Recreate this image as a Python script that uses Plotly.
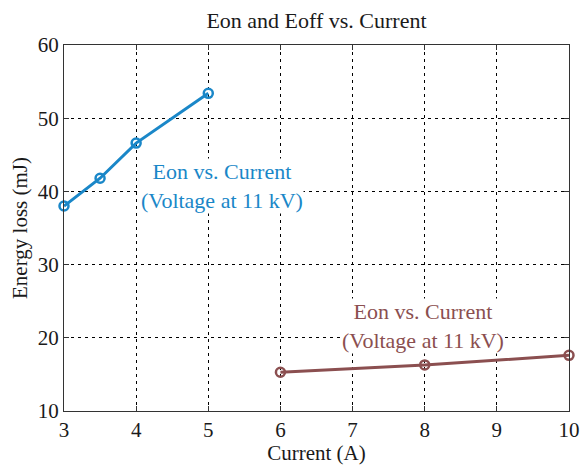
import plotly.graph_objects as go

# Switching energy data
eon_current = [3, 3.5, 4, 5]
eon_energy = [38.0, 41.8, 46.6, 53.4]

eoff_current = [6, 8, 10]
eoff_energy = [15.3, 16.3, 17.6]

x_ticks = [3, 4, 5, 6, 7, 8, 9, 10]
y_ticks = [10, 20, 30, 40, 50, 60]

blue = "#1a87c8"
brown = "#8b4f50"
font_family = "Liberation Serif, Times New Roman, serif"
text_color = "#1a1a1a"

fig = go.Figure()

fig.add_trace(go.Scatter(
    x=eon_current, y=eon_energy, mode="lines+markers",
    line=dict(color=blue, width=3),
    marker=dict(symbol="circle-open", size=9, color=blue, line=dict(width=2.5, color=blue)),
    showlegend=False, cliponaxis=False,
))

fig.add_trace(go.Scatter(
    x=eoff_current, y=eoff_energy, mode="lines+markers",
    line=dict(color=brown, width=3),
    marker=dict(symbol="circle-open", size=9, color=brown, line=dict(width=2.5, color=brown)),
    showlegend=False, cliponaxis=False,
))

fig.add_annotation(
    x=5.19, y=40.7, xref="x", yref="y",
    text="Eon vs. Current<br>(Voltage at 11 kV)",
    showarrow=False, align="center",
    font=dict(family=font_family, size=22, color=blue),
    bgcolor="white", borderpad=0,
)

fig.add_annotation(
    x=7.98, y=21.6, xref="x", yref="y",
    text="Eon vs. Current<br>(Voltage at 11 kV)",
    showarrow=False, align="center",
    font=dict(family=font_family, size=22, color=brown),
    bgcolor="white", borderpad=0,
)

axis_common = dict(
    showline=True, linecolor="#333333", linewidth=1, mirror="ticks",
    ticks="inside", ticklen=5, tickcolor="#333333",
    showgrid=True, gridcolor="black", gridwidth=1, griddash="3px,4px",
    zeroline=False, automargin=False,
    tickfont=dict(family=font_family, size=21, color=text_color),
)

fig.update_xaxes(
    range=[3, 10], tickvals=x_ticks, ticktext=[str(v) for v in x_ticks],
    title=dict(text="Current (A)", font=dict(family=font_family, size=21, color=text_color), standoff=2),
    **axis_common,
)
fig.update_yaxes(
    range=[10, 60], tickvals=y_ticks, ticktext=[str(v) for v in y_ticks],
    title=dict(text="Energy loss (mJ)", font=dict(family=font_family, size=21, color=text_color), standoff=4),
    **axis_common,
)

fig.update_layout(
    width=581, height=465,
    margin=dict(l=64, r=12, t=45, b=54),
    plot_bgcolor="white", paper_bgcolor="white",
    title=dict(text="Eon and Eoff vs. Current", xref="paper", x=0.5, xanchor="center",
               y=0.957, yanchor="middle",
               font=dict(family=font_family, size=22, color=text_color)),
)

fig.write_html("out.html")
